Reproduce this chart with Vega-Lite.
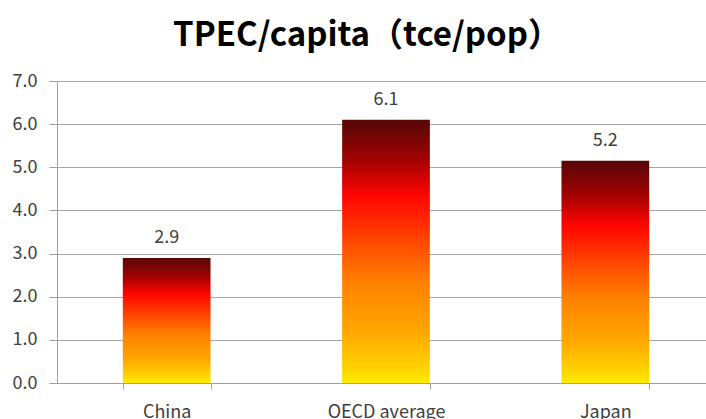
{
  "$schema": "https://vega.github.io/schema/vega-lite/v6.json",
  "autosize": "none",
  "padding": {"left": 57, "top": 81, "right": 0, "bottom": 36},
  "width": 658,
  "height": 302,
  "background": "white",
  "title": {
    "text": "TPEC/capita（tce/pop）",
    "anchor": "middle",
    "frame": "group",
    "dx": -19,
    "offset": 19,
    "font": "Noto Sans CJK SC",
    "fontSize": 33,
    "fontWeight": "bold",
    "color": "#000000"
  },
  "data": {
    "values": [
      {"region": "China", "tpec": 2.9},
      {"region": "OECD average", "tpec": 6.1},
      {"region": "Japan", "tpec": 5.15}
    ]
  },
  "config": {
    "view": {"stroke": null},
    "axis": {
      "labelFont": "Noto Sans CJK SC",
      "labelFontSize": 18,
      "labelColor": "#404040",
      "domainColor": "#a0a0a0",
      "tickColor": "#a0a0a0",
      "gridColor": "#a6a6a6",
      "title": null
    }
  },
  "encoding": {
    "x": {
      "field": "region",
      "type": "nominal",
      "sort": null,
      "scale": {"paddingInner": 0.6, "paddingOuter": 0.3},
      "axis": {
        "labelAngle": 0,
        "tickBand": "extent",
        "tickSize": 6,
        "labelPadding": 14,
        "grid": false
      }
    },
    "y": {
      "field": "tpec",
      "type": "quantitative",
      "scale": {"domain": [0, 7], "nice": false},
      "axis": {
        "values": [0, 1, 2, 3, 4, 5, 6, 7],
        "format": ".1f",
        "tickSize": 8,
        "labelPadding": 12,
        "grid": true,
        "domain": true
      }
    }
  },
  "layer": [
    {
      "mark": {
        "type": "bar",
        "color": {
          "gradient": "linear",
          "x1": 0, "y1": 1, "x2": 0, "y2": 0,
          "stops": [
            {"offset": 0, "color": "#ffec00"},
            {"offset": 0.06, "color": "#ffd200"},
            {"offset": 0.19, "color": "#ffa800"},
            {"offset": 0.38, "color": "#ff8200"},
            {"offset": 0.51, "color": "#ff5200"},
            {"offset": 0.71, "color": "#ff0500"},
            {"offset": 0.85, "color": "#a00202"},
            {"offset": 1, "color": "#560707"}
          ]
        }
      }
    },
    {
      "mark": {
        "type": "text",
        "baseline": "bottom",
        "dy": -11,
        "font": "Noto Sans CJK SC",
        "fontSize": 18,
        "color": "#404040"
      },
      "encoding": {
        "text": {"field": "tpec", "type": "quantitative", "format": ".1f"}
      }
    }
  ]
}
